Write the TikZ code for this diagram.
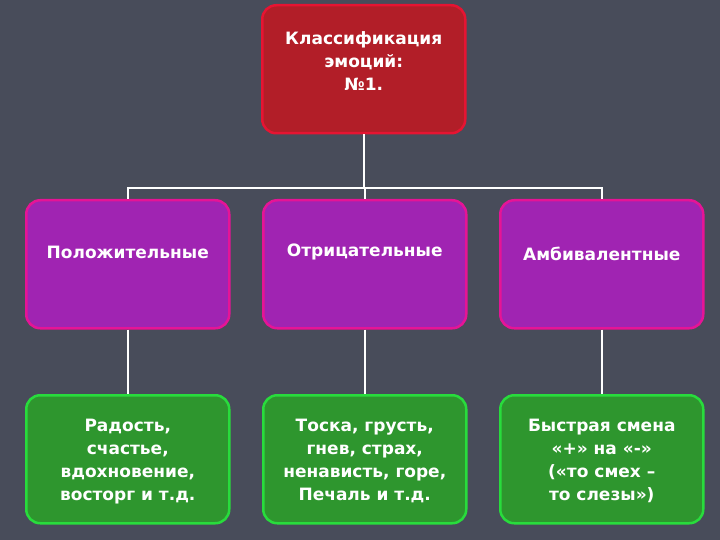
\documentclass[tikz,border=0pt]{standalone}
\usepackage{fontspec}
\setmainfont{DejaVu Sans}
\definecolor{bg}{RGB}{72,76,90}
\definecolor{tf}{RGB}{178,30,40}
\definecolor{td}{RGB}{230,20,50}
\definecolor{mf}{RGB}{160,36,178}
\definecolor{md}{RGB}{230,20,150}
\definecolor{lf}{RGB}{46,150,46}
\definecolor{ld}{RGB}{40,220,60}
\begin{document}
\begin{tikzpicture}[x=1pt,y=-1pt,
  box/.style={rounded corners=14pt,line width=2.5pt,minimum width=203pt,minimum height=128pt,anchor=north west,inner sep=0pt},
  topbox/.style={box,fill=tf,draw=td},
  midbox/.style={box,fill=mf,draw=md},
  lowbox/.style={box,fill=lf,draw=ld},
  txt/.style={text=white,font=\bfseries\fontsize{17}{23}\selectfont,align=center},
  conn/.style={draw=white,line width=2pt}]
\fill[bg] (0,0) rectangle (720,540);
\useasboundingbox (0,0) rectangle (720,540);
\node[topbox] (t) at (261,4) {};
\node[txt] at (t.center) [yshift=8pt] {Классификация\\эмоций:\\№1.};
\node[midbox] (m1) at (25,199) {};
\node[midbox] (m2) at (262,199) {};
\node[midbox] (m3) at (499,199) {};
\node[txt] at (m1.center) [yshift=12pt] {Положительные};
\node[txt] at (m2.center) [yshift=12pt] {Отрицательные};
\node[txt] at (m3.center) [yshift=10pt] {Амбивалентные};
\node[lowbox] (b1) at (25,394) {};
\node[lowbox] (b2) at (262,394) {};
\node[lowbox] (b3) at (499,394) {};
\node[txt] at (b1.center) [yshift=-2pt] {Радость,\\счастье,\\вдохновение,\\восторг и т.д.};
\node[txt] at (b2.center) [yshift=-2pt] {Тоска, грусть,\\гнев, страх,\\ненависть, горе,\\Печаль и т.д.};
\node[txt] at (b3.center) [yshift=-2pt] {Быстрая смена\\«+» на «-»\\(«то смех –\\то слезы»)};
\coordinate (h) at (362,188);
\draw[conn] (t.south) -- (t.south |- h);
\draw[conn] (m1.north) -- (m1.north |- h) -- (m3.north |- h) -- (m3.north);
\draw[conn] (m2.north) -- (m2.north |- h);
\draw[conn] (m1.south) -- (b1.north);
\draw[conn] (m2.south) -- (b2.north);
\draw[conn] (m3.south) -- (b3.north);
\end{tikzpicture}
\end{document}
